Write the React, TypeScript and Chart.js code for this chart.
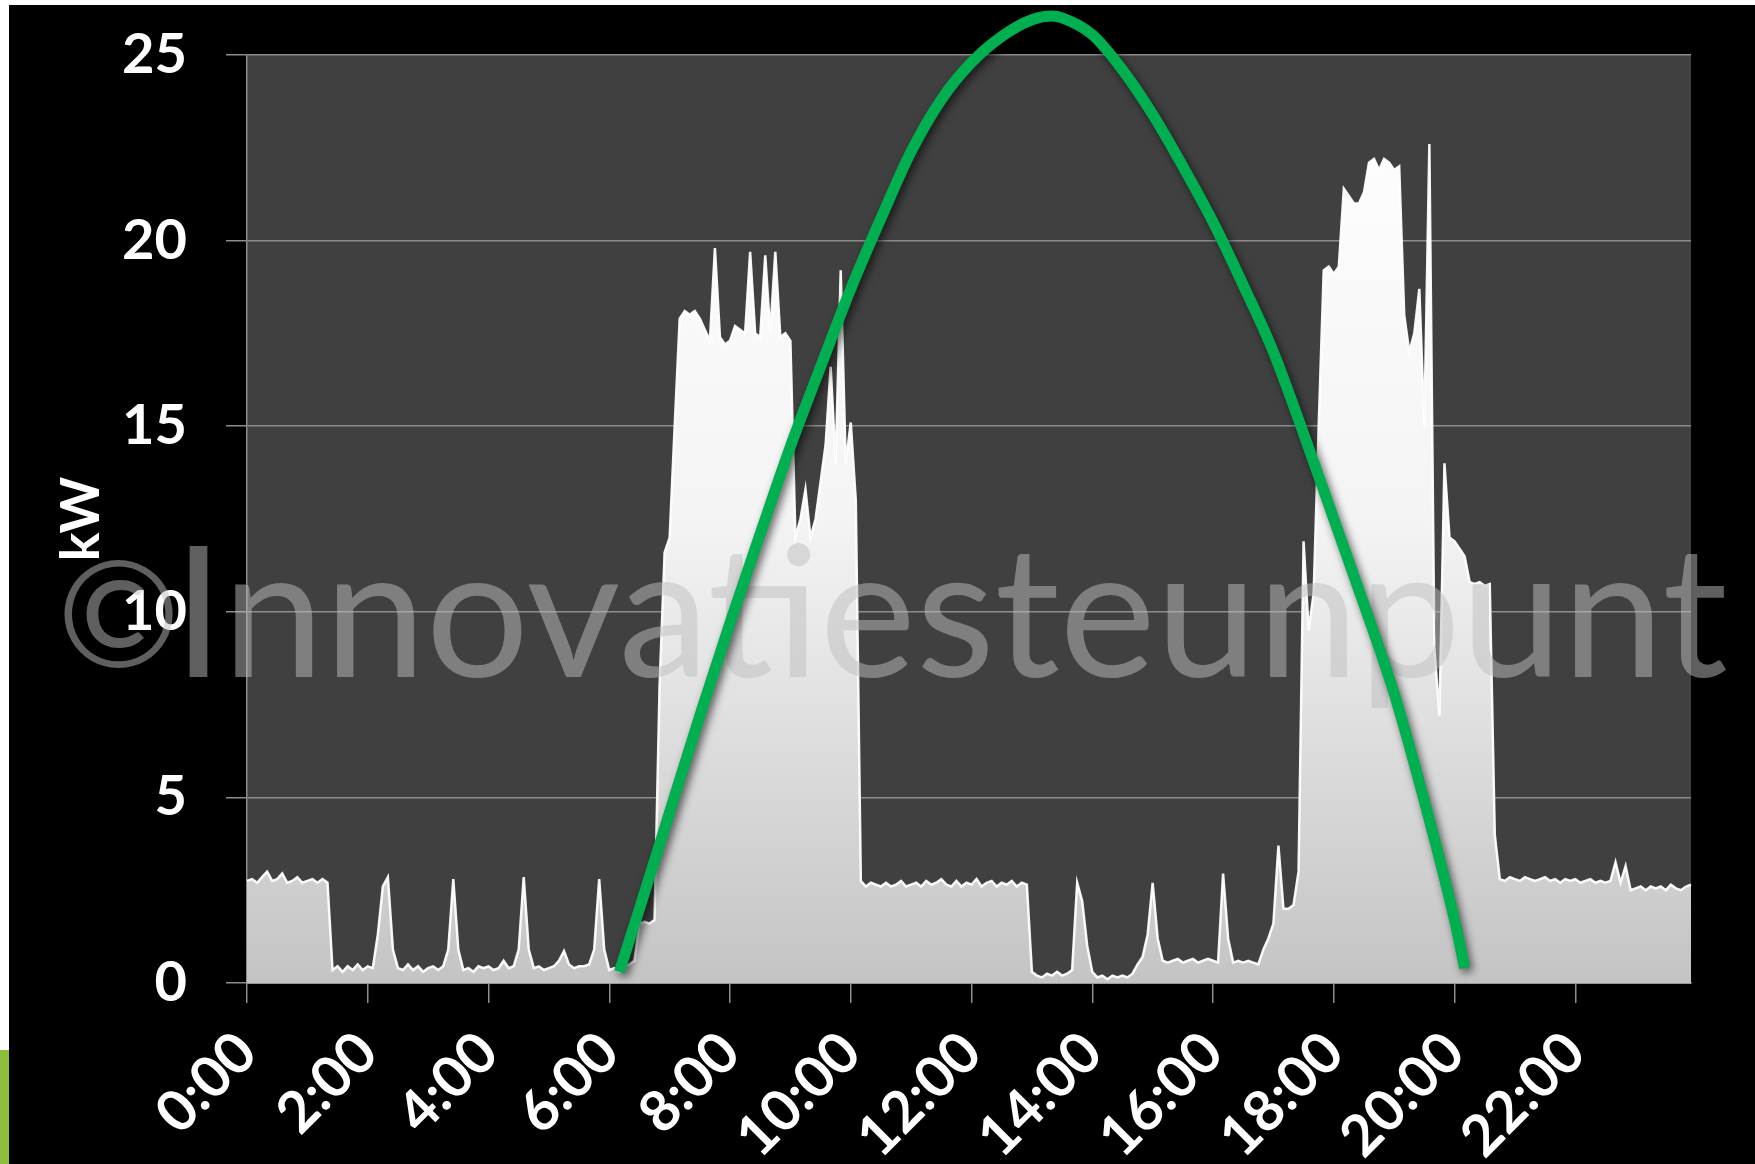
import React, { useEffect, useRef } from 'react';
import { Chart, registerables } from 'chart.js';

Chart.register(...registerables);

// 5-minute sample times, 0:00 .. 23:55
const HOURS: number[] = Array.from({ length: 24 }, (_, h) => h);
const MINUTES: number[] = [0, 5, 10, 15, 20, 25, 30, 35, 40, 45, 50, 55];
const TIMES: string[] = HOURS.flatMap((h) => MINUTES.map((m) => `${h}:${String(m).padStart(2, '0')}`));

const TICK_LABELS: string[] = ['0:00', '2:00', '4:00', '6:00', '8:00', '10:00', '12:00', '14:00', '16:00', '18:00', '20:00', '22:00'];

// measured power (kW), one row per hour, 5-minute steps
const KW: number[] = [
  2.75, 2.8, 2.7, 2.85, 3.0, 2.75, 2.8, 2.95, 2.7, 2.75, 2.85, 2.7, // 0
  2.75, 2.8, 2.7, 2.8, 2.7, 0.35, 0.45, 0.3, 0.45, 0.35, 0.5, 0.35, // 1
  0.45, 0.4, 1.3, 2.6, 2.85, 0.9, 0.4, 0.35, 0.5, 0.35, 0.45, 0.3, // 2
  0.4, 0.45, 0.35, 0.45, 0.9, 2.8, 0.9, 0.35, 0.4, 0.3, 0.45, 0.4, // 3
  0.45, 0.35, 0.4, 0.6, 0.4, 0.45, 0.9, 2.85, 0.9, 0.4, 0.45, 0.35, // 4
  0.4, 0.45, 0.6, 0.86, 0.5, 0.4, 0.45, 0.45, 0.5, 0.9, 2.8, 0.9, // 5
  0.35, 0.4, 0.3, 0.45, 0.5, 0.6, 1.6, 1.65, 1.6, 1.7, 8.0, 11.6, // 6
  12.0, 15.0, 17.9, 18.1, 18.0, 18.1, 17.9, 17.6, 17.3, 19.8, 17.4, 17.2, // 7
  17.3, 17.7, 17.6, 17.5, 19.7, 17.5, 17.4, 19.6, 17.5, 19.7, 17.4, 17.5, // 8
  17.3, 12.0, 12.5, 13.3, 12.0, 12.5, 13.5, 14.5, 16.6, 14.0, 19.2, 14.0, // 9
  15.1, 13.0, 2.75, 2.6, 2.7, 2.65, 2.6, 2.7, 2.6, 2.65, 2.75, 2.6, // 10
  2.65, 2.7, 2.6, 2.75, 2.65, 2.7, 2.8, 2.65, 2.6, 2.75, 2.6, 2.7, // 11
  2.65, 2.8, 2.6, 2.7, 2.75, 2.6, 2.7, 2.65, 2.75, 2.6, 2.7, 2.65, // 12
  0.3, 0.2, 0.15, 0.25, 0.2, 0.3, 0.2, 0.25, 0.35, 2.7, 2.2, 1.0, // 13
  0.3, 0.15, 0.2, 0.1, 0.2, 0.15, 0.2, 0.15, 0.25, 0.5, 0.7, 1.3, // 14
  2.7, 1.2, 0.6, 0.55, 0.6, 0.65, 0.55, 0.6, 0.65, 0.55, 0.6, 0.65, // 15
  0.6, 0.55, 2.95, 1.2, 0.55, 0.6, 0.55, 0.6, 0.55, 0.5, 0.9, 1.2, // 16
  1.6, 3.7, 2.0, 2.0, 2.1, 3.0, 11.9, 9.5, 10.5, 15.0, 19.2, 19.3, // 17
  19.1, 19.3, 21.4, 21.2, 21.0, 21.0, 21.3, 22.1, 22.2, 21.9, 22.2, 22.1, // 18
  21.9, 22.0, 18.0, 17.0, 17.5, 18.7, 15.0, 22.6, 9.0, 7.2, 14.0, 12.0, // 19
  11.9, 11.7, 11.5, 10.8, 10.75, 10.8, 10.7, 10.75, 4.0, 2.8, 2.75, 2.85, // 20
  2.8, 2.75, 2.85, 2.8, 2.75, 2.8, 2.85, 2.75, 2.8, 2.7, 2.8, 2.75, // 21
  2.8, 2.7, 2.75, 2.8, 2.7, 2.75, 2.7, 2.75, 3.25, 2.7, 3.15, 2.5, // 22
  2.55, 2.6, 2.5, 2.6, 2.55, 2.6, 2.5, 2.65, 2.55, 2.5, 2.6, 2.65, // 23
];

// green (solar) curve
const GREEN_TIMES: string[] = [
  '6:10', '6:30', '7:00', '7:30', '8:00', '8:30', '9:00', '9:30', '10:00', '10:30',
  '11:00', '11:30', '12:00', '12:30', '13:00', '13:20', '13:30', '14:00', '14:30', '15:00',
  '15:30', '16:00', '16:30', '17:00', '17:30', '18:00', '18:30', '19:00', '19:30', '20:00', '20:10',
];
const GREEN_KW: number[] = [
  0.3, 2.0, 4.6, 7.2, 9.7, 12.1, 14.45, 16.6, 18.7, 20.6,
  22.4, 23.8, 24.8, 25.5, 25.95, 26.05, 26.0, 25.55, 24.6, 23.4,
  22.0, 20.5, 18.8, 17.0, 14.8, 12.5, 10.2, 7.8, 4.9, 1.7, 0.4,
];

const WATERMARK_SIGN = '©';
const WATERMARK_TEXT = 'Innovatiesteunpunt';
const GRID = '#8c8c8c';
const FONT = 'Lato, "DejaVu Sans", sans-serif';

const W = 1746;
const H = 1159;

export default function App() {
  const ref = useRef<HTMLCanvasElement | null>(null);

  useEffect(() => {
    const canvas = ref.current;
    if (!canvas) return;
    const greenMap = new Map<string, number>(GREEN_TIMES.map((t, i) => [t, GREEN_KW[i]]));
    const greenData = TIMES.map((t) => (greenMap.has(t) ? (greenMap.get(t) as number) : null));

    const bgPlugin = {
      id: 'plotBg',
      beforeDraw(chart: any) {
        const { ctx, chartArea } = chart;
        if (!chartArea) return;
        ctx.save();
        ctx.fillStyle = '#404040';
        ctx.fillRect(chartArea.left, chartArea.top, chartArea.right - chartArea.left, chartArea.bottom - chartArea.top);
        ctx.restore();
      },
    };

    const fxPlugin = {
      id: 'fx',
      beforeDatasetDraw(chart: any, args: any) {
        if (args.index === 0) {
          const c = chart.ctx;
          c.save();
          c.shadowColor = 'rgba(0,0,0,0.6)';
          c.shadowBlur = 9;
          c.shadowOffsetX = 3;
          c.shadowOffsetY = 4;
        }
      },
      afterDatasetDraw(chart: any, args: any) {
        const c = chart.ctx;
        if (args.index === 0) {
          c.restore();
        }
        if (args.index === 1) {
          c.save();
          c.fillStyle = 'rgba(190,190,190,0.5)';
          c.textAlign = 'left';
          c.textBaseline = 'alphabetic';
          // copyright sign
          c.font = `400 148px ${FONT}`;
          c.fillText(WATERMARK_SIGN, 48, 662);
          // name, fitted to its width in the picture
          let size = 178;
          c.font = `400 ${size}px ${FONT}`;
          const w = c.measureText(WATERMARK_TEXT).width;
          size = (size * 1555) / w;
          c.font = `400 ${size}px ${FONT}`;
          c.fillText(WATERMARK_TEXT, 164, 672);
          c.restore();
        }
      },
    };

    const chart = new Chart(canvas, {
      type: 'line',
      data: {
        labels: TIMES,
        datasets: [
          {
            label: 'zon',
            data: greenData,
            borderColor: '#00B050',
            borderWidth: 11,
            pointRadius: 0,
            spanGaps: true,
            cubicInterpolationMode: 'monotone',
            fill: false,
            clip: false as any,
            borderCapStyle: 'butt',
            borderJoinStyle: 'round',
          } as any,
          {
            label: 'kW',
            data: KW,
            borderColor: 'rgba(255,255,255,0.95)',
            borderWidth: 2.5,
            pointRadius: 0,
            tension: 0,
            fill: 'origin',
            backgroundColor: (ctx: any) => {
              const area = ctx.chart.chartArea;
              if (!area) return '#d0d0d0';
              const g = ctx.chart.ctx.createLinearGradient(0, area.top, 0, area.bottom);
              g.addColorStop(0, '#ffffff');
              g.addColorStop(0.5, '#f4f4f4');
              g.addColorStop(1, '#c4c4c4');
              return g;
            },
          } as any,
        ],
      },
      options: {
        animation: false,
        responsive: false,
        devicePixelRatio: 1,
        events: [],
        layout: { padding: { top: 50, right: 64, left: 0, bottom: 0 } },
        plugins: { legend: { display: false }, tooltip: { enabled: false } },
        scales: {
          x: {
            type: 'category',
            offset: false,
            grid: { display: true, drawOnChartArea: false, drawTicks: true, tickLength: 20, color: GRID, lineWidth: 1.5 },
            border: { display: true, color: '#9a9a9a', width: 2 },
            ticks: {
              autoSkip: false,
              maxRotation: 45,
              minRotation: 45,
              color: '#ffffff',
              padding: 30,
              font: { family: FONT, weight: 'bold', size: 57, lineHeight: 0.5 },
            },
            afterBuildTicks: (scale: any) => {
              scale.ticks = scale.ticks.filter((t: any) => TICK_LABELS.includes(TIMES[t.value]));
            },
            afterFit: (scale: any) => {
              scale.height = 181;
              scale.paddingLeft = 0;
              scale.paddingRight = 0;
            },
          } as any,
          y: {
            min: 0,
            max: 25,
            ticks: {
              stepSize: 5,
              color: '#ffffff',
              padding: 39,
              font: { family: FONT, weight: 'bold', size: 56 },
            },
            grid: { color: GRID, lineWidth: 1.5, tickLength: 21, drawTicks: true },
            border: { display: true, color: GRID, width: 1.5 },
            title: {
              display: true,
              text: 'kW',
              color: '#ffffff',
              font: { family: FONT, weight: 'bold', size: 54 },
              padding: { top: 40, bottom: 0 },
            },
            afterFit: (scale: any) => {
              scale.width = 238;
              scale.paddingTop = 0;
              scale.paddingBottom = 0;
            },
          } as any,
        },
      },
      plugins: [bgPlugin, fxPlugin],
    });

    return () => chart.destroy();
  }, []);

  return (
    <div style={{ position: 'fixed', left: 0, top: 0, width: 1755, height: 1164, background: '#ffffff', overflow: 'hidden' }}>
      <div style={{ position: 'absolute', left: 9, top: 5, width: W, height: H, background: '#000000' }}>
        <canvas ref={ref} width={W} height={H} style={{ display: 'block', width: W, height: H }} />
      </div>
      <div style={{ position: 'absolute', left: 0, top: 1050, width: 9, height: 114, background: '#8cbe3c' }} />
    </div>
  );
}
